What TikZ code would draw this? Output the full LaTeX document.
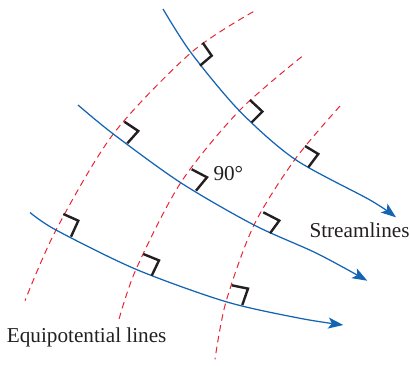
\documentclass[tikz,border=0pt]{standalone}
\usepackage{fontspec}
\setmainfont{Liberation Serif}
\usetikzlibrary{calc,arrows.meta}
\definecolor{sblue}{RGB}{20,100,180}
\definecolor{ered}{RGB}{235,35,50}
\definecolor{ink}{RGB}{35,31,32}
\tikzset{
  stream/.style={draw=sblue, line width=1.25pt, -{Stealth[length=15pt,width=11pt,inset=3.5pt]}},
  equip/.style={draw=ered, line width=1pt, dash pattern=on 6.5pt off 4.5pt},
  rmark/.style={draw=ink, line width=2.4pt, line join=miter},
  lbl/.style={text=ink, inner sep=0pt, font=\fontsize{21.2}{25}\selectfont}
}
\newcommand\ramark[3]{\draw[rmark] ($(#1)+(#2)$) -- ($(#1)+(#2)+(#3)$) -- ($(#1)+(#3)$);}
\begin{document}
\begin{tikzpicture}[x=1pt,y=-1pt]
\useasboundingbox (0,0) rectangle (410,365);
% intersections
\coordinate (i11) at (191,52.7);
\coordinate (i12) at (239.3,110.7);
\coordinate (i13) at (295,159.3);
\coordinate (i21) at (113.3,134);
\coordinate (i22) at (180.7,182.7);
\coordinate (i23) at (254,225);
\coordinate (i31) at (56,230);
\coordinate (i32) at (136,269.3);
\coordinate (i33) at (226,301.7);
% equipotential lines
\draw[equip] plot[smooth] coordinates {(253.3,11.7) (i11) (i21) (i31) (25,300.7)};
\draw[equip] plot[smooth] coordinates {(301.7,56.7) (i12) (i22) (i32) (118.3,321.7)};
\draw[equip] plot[smooth] coordinates {(340,106) (i13) (i23) (i33) (215,359.3)};
% streamlines
\draw[stream] plot[smooth] coordinates {(163,9) (i11) (i12) (i13) (370,200) (396,217.3)};
\draw[stream] plot[smooth] coordinates {(78,105) (i21) (i22) (i23) (316.7,253.3) (367.3,280.7)};
\draw[stream] plot[smooth] coordinates {(30,212.5) (i31) (i32) (i33) (300,318.3) (343.3,325)};
% right-angle marks
\ramark{i11}{11.7,-10}{9,13}
\ramark{i12}{10.7,-10.7}{12.4,11.6}
\ramark{i13}{10,-13.3}{13.3,8}
\ramark{i21}{11,-12.3}{14,9.3}
\ramark{i22}{11,-13.4}{15.3,8}
\ramark{i23}{9.3,-12.7}{16,8.3}
\ramark{i31}{7.3,-16}{15,6.7}
\ramark{i32}{7.3,-15.3}{15.7,6.4}
\ramark{i33}{5.7,-16.4}{16.3,3.3}
% labels
\node[lbl, anchor=base west] (deg) at (213.3,180.7) {90°};
\node[lbl, anchor=base west] (sl) at (309.3,237.7) {Streamlines};
\node[lbl, anchor=base west] (el) at (6.7,342.3) {Equipotential lines};
\end{tikzpicture}
\end{document}
